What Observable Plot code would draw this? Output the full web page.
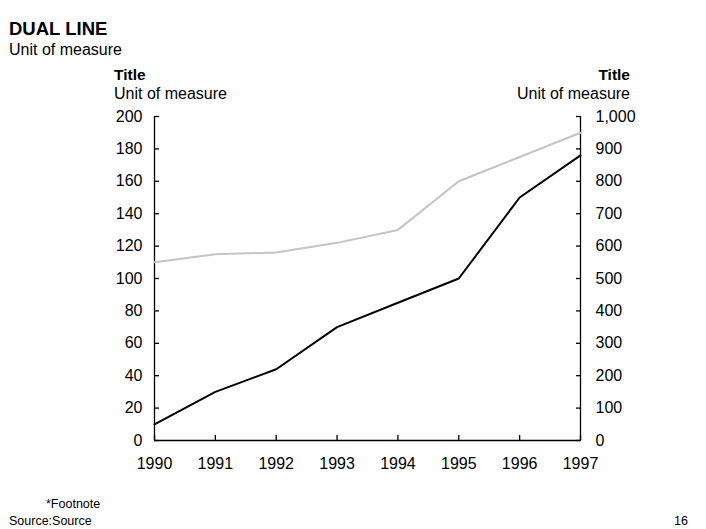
<!DOCTYPE html>
<html>
<head>
<meta charset="utf-8">
<script src="https://cdn.jsdelivr.net/npm/d3@7"></script>
<script src="https://cdn.jsdelivr.net/npm/@observablehq/plot@0.6"></script>
<style>
  html, body { margin: 0; padding: 0; background: #fff; }
  #wrap { position: relative; width: 706px; height: 529px; font-family: "Liberation Sans", Arial, sans-serif; color: #000; overflow: hidden; }
  #wrap svg { position: absolute; left: 0; top: 0; }
  .t { position: absolute; line-height: 1; white-space: nowrap; }
</style>
</head>
<body>
<div id="wrap">
  <div class="t" style="left:9px; top:20px; font-size:18.5px; font-weight:bold;">DUAL LINE</div>
  <div class="t" style="left:9px; top:41.5px; font-size:16px;">Unit of measure</div>
  <div class="t" style="left:114px; top:67px; font-size:15.5px; font-weight:bold;">Title</div>
  <div class="t" style="left:114px; top:86px; font-size:16px;">Unit of measure</div>
  <div class="t" style="right:76px; top:67px; font-size:15.5px; font-weight:bold; text-align:right;">Title</div>
  <div class="t" style="right:76px; top:86px; font-size:16px; text-align:right;">Unit of measure</div>
  <div class="t" style="left:46px; top:497.5px; font-size:12.5px;">*Footnote</div>
  <div class="t" style="left:9px; top:514.5px; font-size:12.5px;">Source:Source</div>
  <div class="t" style="left:674px; top:514.5px; font-size:12.5px;">16</div>
</div>
<script>
const years = [1990, 1991, 1992, 1993, 1994, 1995, 1996, 1997];
const leftSeries = [10, 30, 44, 70, 85, 100, 150, 176];      // left axis units (0–200)
const rightSeries = [550, 575, 580, 610, 650, 800, 875, 950]; // right axis units (0–1,000)
const leftTicks = [0, 20, 40, 60, 80, 100, 120, 140, 160, 180, 200];
const rightTicks = [0, 100, 200, 300, 400, 500, 600, 700, 800, 900, 1000];

const ratio = 1000 / 200;
const blackData = years.map((y, i) => ({year: y, value: leftSeries[i]}));
const grayData = years.map((y, i) => ({year: y, value: rightSeries[i] / ratio}));

const chart = Plot.plot({
  width: 706,
  height: 529,
  marginTop: 116,
  marginBottom: 89,
  marginLeft: 154,
  marginRight: 126,
  style: {fontFamily: "Liberation Sans, Arial, sans-serif", fontSize: "16px", color: "#000", background: "transparent", overflow: "visible"},
  x: {domain: [1990, 1997], axis: null},
  y: {domain: [0, 200], axis: null},
  marks: [
    Plot.ruleX([1990, 1997], {stroke: "#000", strokeWidth: 1.3}),
    Plot.ruleY([0], {stroke: "#000", strokeWidth: 1.3}),
    Plot.axisY(leftTicks, {anchor: "left", tickSize: -5, tickPadding: 17, tickFormat: d => String(d), fontSize: 16, label: null, stroke: "#000", strokeWidth: 1.3}),
    Plot.axisY(rightTicks.map(d => d / ratio), {anchor: "right", tickSize: -5, tickPadding: 20, tickFormat: d => d3.format(",")(Math.round(d * ratio)), fontSize: 16, label: null, stroke: "#000", strokeWidth: 1.3}),
    Plot.axisX(years, {anchor: "bottom", tickSize: -5, tickPadding: 22, tickFormat: d => String(d), fontSize: 16, label: null, stroke: "#000", strokeWidth: 1.3}),
    Plot.line(grayData, {x: "year", y: "value", stroke: "#c4c4c4", strokeWidth: 2}),
    Plot.line(blackData, {x: "year", y: "value", stroke: "#000", strokeWidth: 2})
  ]
});
document.getElementById("wrap").prepend(chart);
</script>
</body>
</html>
